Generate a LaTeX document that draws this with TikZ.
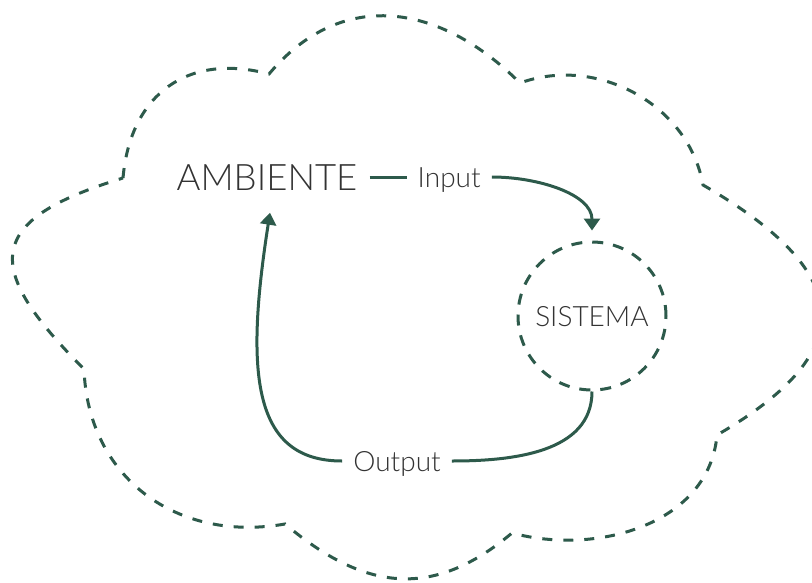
\documentclass[tikz,border=0pt]{standalone}
\usepackage{fontspec}
\setmainfont{Lato}[UprightFont=* Light]
\usetikzlibrary{positioning,arrows.meta}
\definecolor{verde}{HTML}{2D5A4B}
\definecolor{testo}{HTML}{333333}
\tikzset{
  title/.style={text=testo, font=\fontsize{36.5}{40}\selectfont, text height=27pt, text depth=0pt, inner xsep=12pt, inner ysep=22pt},
  label/.style={text=testo, font=\fontsize{28}{30}\selectfont, text height=20pt, text depth=0pt, inner xsep=11pt, inner ysep=4pt},
  main/.style={circle, minimum size=148pt, inner sep=0pt, draw=verde, line width=3pt, dash pattern=on 11pt off 10pt},
  connect/.style={-{Triangle[width=16pt,length=12pt]}, draw=verde, line width=3pt},
  link/.style={draw=verde, line width=3pt},
  cloud/.style={draw=verde, line width=3pt, dash pattern=on 10pt off 11pt}
}
\begin{document}
\begin{tikzpicture}[x=1pt,y=1pt]
    \useasboundingbox (0,0) rectangle (812,-582);
    \clip (0,0) rectangle (812,-582);
    \draw [cloud] (123,-178) to[out=85,in=165,looseness=1.2] (269,-74)
        to[out=50,in=135,looseness=1.15] (520,-83)
        to[out=20,in=100] (703,-185)
        to[out=-30,in=30,looseness=1.75] (717,-435)
        to[out=-95,in=-15] (512,-533)
        to[out=-140,in=-40,looseness=1.17] (285,-524)
        to[out=190,in=-88,looseness=1.1] (84,-369)
        to[out=135,in=-163,looseness=1.9] (123,-178);

    \node[title] (Ambiente) at (267,-177) {AMBIENTE};
    \node[label] (Input) [right=37pt of Ambiente] {Input};
    \node[main, label] (Sistema) at (592,-316) {SISTEMA};
    \node[label] (Output) at (397,-461) {Output};

    \path (Ambiente) edge [link] (Input);
    \draw [connect, shorten >=10pt] (Input.east) to[out=0,in=90] (Sistema.north);
    \draw [link] (Sistema.south) to[out=-90,in=0] (Output.east);
    \draw [connect] (Output.west) .. controls +(-90,0) and +(-25,-160) .. ([xshift=3pt]Ambiente.south);
\end{tikzpicture}
\end{document}
